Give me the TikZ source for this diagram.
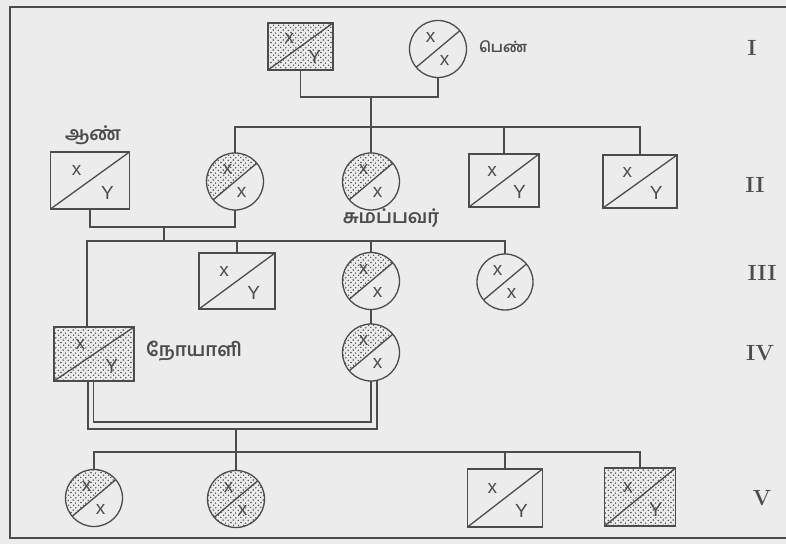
\documentclass[tikz,border=0pt]{standalone}
\usepackage{fontspec}
\newfontfamily\tamil[Script=Tamil]{Hind Madurai}
\newfontfamily\gsans{Liberation Sans}
\usetikzlibrary{patterns,calc}
\definecolor{ink}{rgb}{0.30,0.30,0.30}
\definecolor{paper}{rgb}{0.925,0.925,0.925}
\pgfdeclarepatternformonly{stip}{\pgfpoint{-1pt}{-1pt}}{\pgfpoint{11pt}{11pt}}{\pgfpoint{10pt}{10pt}}{%
  \pgfpathcircle{\pgfpoint{1.0pt}{1.5pt}}{0.8pt}%
  \pgfpathcircle{\pgfpoint{5.5pt}{0.8pt}}{0.75pt}%
  \pgfpathcircle{\pgfpoint{3.2pt}{4.0pt}}{0.8pt}%
  \pgfpathcircle{\pgfpoint{8.2pt}{3.6pt}}{0.75pt}%
  \pgfpathcircle{\pgfpoint{0.8pt}{6.6pt}}{0.75pt}%
  \pgfpathcircle{\pgfpoint{5.8pt}{6.2pt}}{0.8pt}%
  \pgfpathcircle{\pgfpoint{3.6pt}{8.8pt}}{0.75pt}%
  \pgfpathcircle{\pgfpoint{8.6pt}{8.8pt}}{0.8pt}%
  \pgfusepath{fill}}
\newcommand\ppb[1]{\pgfpointanchor{path picture bounding box}{#1}}
\newcommand\gl{\gsans\fontsize{19}{19}\selectfont\color{ink}}
\newcommand\tl{\tamil\bfseries\fontsize{19}{22}\selectfont\color{ink}}
\newcommand\tls{\tamil\bfseries\fontsize{14.5}{17}\selectfont\color{ink}}
\newcommand\rl{\rmfamily\bfseries\fontsize{22}{22}\selectfont\color{ink}}
\newcommand\sqdiag{\draw[ink,line width=1.3pt] (path picture bounding box.south west) -- (path picture bounding box.north east);}
\newcommand\sqletters{%
  \pgftext[at=\pgfpointlineattime{0.33}{\ppb{north west}}{\ppb{south east}}]{\gl x}%
  \pgftext[at=\pgfpointlineattime{0.72}{\ppb{north west}}{\ppb{south east}}]{\gl Y}}
\newcommand\sqfull{\fill[pattern=stip,pattern color=ink] (path picture bounding box.south west) rectangle (path picture bounding box.north east);}
\newcommand\cdiag{\draw[ink,line width=1.3pt] ([shift={(40:40pt)}]path picture bounding box.center) -- ([shift={(220:40pt)}]path picture bounding box.center);}
\newcommand\chalf{\fill[pattern=stip,pattern color=ink] ([shift={(40:45pt)}]path picture bounding box.center) -- ([shift={(130:64pt)}]path picture bounding box.center) -- ([shift={(220:45pt)}]path picture bounding box.center) -- cycle;}
\newcommand\cletters{%
  \pgftext[at=\pgfpointadd{\ppb{center}}{\pgfpointpolar{122}{14pt}}]{\gl x}%
  \pgftext[at=\pgfpointadd{\ppb{center}}{\pgfpointpolar{-60}{13pt}}]{\gl x}}
\tikzset{
  every node/.style={inner sep=0pt, outer sep=0pt},
  ind/.style={draw=ink, line width=1.3pt},
  conn/.style={draw=ink, line width=1.3pt},
  malebox/.style 2 args={ind, rectangle, minimum width=#1, minimum height=#2, path picture={\sqdiag\sqletters}},
  affbox/.style 2 args={ind, rectangle, minimum width=#1, minimum height=#2, path picture={\sqfull\sqdiag\sqletters}},
  normf/.style={ind, circle, minimum size=#1, path picture={\cdiag\cletters}},
  carrf/.style={ind, circle, minimum size=#1, path picture={\chalf\cdiag\cletters}},
  afff/.style={ind, circle, minimum size=#1, path picture={\sqfull\cdiag\cletters}},
  lbl/.style={font=\tl},
  lbls/.style={font=\tls},
  gen/.style={font=\rl}
}
\begin{document}
\begin{tikzpicture}[x=1pt,y=1pt]
\useasboundingbox (0,0) rectangle (786,544);
\fill[paper] (0,0) rectangle (786,544);
\draw[conn] (786,537) -- (10,537) -- (10,6) -- (786,6);
% generation I
\node[affbox={65pt}{47pt}] (m1) at (300.5,497.5) {};
\node[normf=57pt] (f1) at (438,495) {};
\node[lbls, anchor=west] (lf) at (479,497) {பெண்};
% generation II
\node[malebox={79pt}{57pt}] (a) at (90,363.5) {};
\node[lbl] (la) at (93,409) {ஆண்};
\node[carrf=57pt] (c1) at (235,362.5) {};
\node[carrf=57pt] (c2) at (371,362.5) {};
\node[lbl] (lc) at (391,326) {சுமப்பவர்};
\node[malebox={70pt}{53pt}] (m3) at (504,363.5) {};
\node[malebox={74pt}{53pt}] (m4) at (640,362.5) {};
% generation III
\node[malebox={76pt}{56pt}] (m5) at (237,263) {};
\node[carrf=57pt] (c3) at (371,263) {};
\node[normf=56pt] (f3) at (505,262) {};
% generation IV
\node[affbox={80pt}{54pt}] (p) at (94,190) {};
\node[lbl, anchor=west] (lp) at (146,193) {நோயாளி};
\node[carrf=57pt] (c4) at (371,191.5) {};
% generation V
\node[carrf=57pt] (v1) at (94,46) {};
\node[afff=57pt] (v2) at (236,45) {};
\node[malebox={75pt}{58pt}] (v3) at (505,46) {};
\node[affbox={71pt}{58pt}] (v4) at (640,47) {};
% generation numerals
\node[gen] (g1) at (752,496) {I};
\node[gen] (g2) at (755,359) {II};
\node[gen] (g3) at (762,271) {III};
\node[gen] (g4) at (760,191) {IV};
\node[gen] (g5) at (762,46) {V};
% connectors
\coordinate (m1f1) at (371,447);
\draw[conn] (m1.south) |- (m1f1) -| (f1.south);
\draw[conn] (m1f1) -- (c2.north);
\coordinate (s2R) at (640,417);
\draw[conn] (c1.north) |- (s2R) -- (m4.north);
\draw[conn] (m3.north) -- (m3.north |- s2R);
\coordinate (ac1) at (164,317);
\draw[conn] (a.south) |- (ac1) -| (c1.south);
\coordinate (s3L) at (87,303);
\coordinate (s3R) at (505,303);
\draw[conn] (ac1) -- (ac1 |- s3R);
\draw[conn] (p.north -| s3L) |- (s3R) -- (f3.north);
\draw[conn] (m5.north) -- (m5.north |- s3R);
\draw[conn] (c3.north) -- (c3.north |- s3R);
\draw[conn] (c3.south) -- (c4.north);
\coordinate (dbli) at (236,122);
\coordinate (dblo) at (236,115);
\draw[conn] ([xshift=-6pt]p.south) |- (dblo) -| (c4.-78);
\draw[conn] ([xshift=-0.5pt]p.south) |- (dbli) -| (c4.-90);
\coordinate (s5R) at (640,92);
\draw[conn] (dblo) -- (dblo |- s5R);
\draw[conn] (v1.north) |- (s5R) -- (v4.north);
\draw[conn] (v2.north) -- (v2.north |- s5R);
\draw[conn] (v3.north) -- (v3.north |- s5R);
\end{tikzpicture}
\end{document}
